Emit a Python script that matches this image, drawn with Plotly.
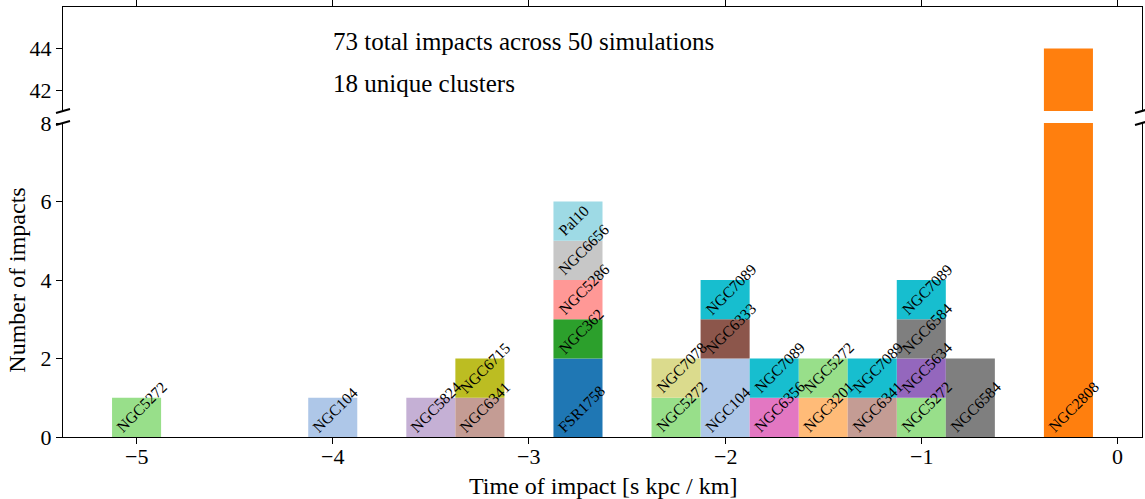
import plotly.graph_objects as go

# Impact histogram: one entry per stacked segment, listed bottom-to-top within each bin
bin_width = 0.25
impact_time = [-5.0, -4.0, -3.5, -3.25, -3.25,
               -2.75, -2.75, -2.75, -2.75, -2.75,
               -2.25, -2.25, -2.0, -2.0, -2.0,
               -1.75, -1.75, -1.5, -1.5, -1.25, -1.25,
               -1.0, -1.0, -1.0, -1.0, -0.75, -0.25]
cluster = ["NGC5272", "NGC104", "NGC5824", "NGC6341", "NGC6715",
           "FSR1758", "NGC362", "NGC5286", "NGC6656", "Pal10",
           "NGC5272", "NGC7078", "NGC104", "NGC6333", "NGC7089",
           "NGC6356", "NGC7089", "NGC3201", "NGC5272", "NGC6341", "NGC7089",
           "NGC5272", "NGC5634", "NGC6584", "NGC7089", "NGC6584", "NGC2808"]
n_impacts = [1, 1, 1, 1, 1,
             2, 1, 1, 1, 1,
             1, 1, 2, 1, 1,
             1, 1, 1, 1, 1, 1,
             1, 1, 1, 1, 2, 44]

cluster_colors = {
    "FSR1758": "#1f77b4", "NGC104": "#aec7e8", "NGC2808": "#ff7f0e",
    "NGC3201": "#ffbb78", "NGC362": "#2ca02c", "NGC5272": "#98df8a",
    "NGC5286": "#ff9896", "NGC5634": "#9467bd", "NGC5824": "#c5b0d5",
    "NGC6333": "#8c564b", "NGC6341": "#c49c94", "NGC6356": "#e377c2",
    "NGC6584": "#7f7f7f", "NGC6656": "#c7c7c7", "NGC6715": "#bcbd22",
    "NGC7078": "#dbdb8d", "NGC7089": "#17becf", "Pal10": "#9edae5",
}

n_simulations = 50
x_ticks = [-5, -4, -3, -2, -1, 0]
y_ticks_low = [0, 2, 4, 6, 8]
y_ticks_high = [42, 44]

# stacking bases
bases = []
running = {}
for t, n in zip(impact_time, n_impacts):
    b = running.get(t, 0)
    bases.append(b)
    running[t] = b + n

FONT = "Liberation Serif"
fig = go.Figure()

for name in sorted(set(cluster)):
    idx = [i for i, c in enumerate(cluster) if c == name]
    xs = [impact_time[i] for i in idx]
    ys = [n_impacts[i] for i in idx]
    bs = [bases[i] for i in idx]
    for xa, ya in (("x", "y"), ("x2", "y2")):
        fig.add_trace(go.Bar(
            x=xs, y=ys, base=bs, width=bin_width,
            marker=dict(color=cluster_colors[name], line=dict(width=0)),
            xaxis=xa, yaxis=ya, showlegend=False, hoverinfo="skip",
        ))

# cluster name on each segment
for t, c, b in zip(impact_time, cluster, bases):
    fig.add_annotation(
        x=t - bin_width / 2, y=b, xref="x", yref="y",
        text=c, textangle=-45, showarrow=False,
        xanchor="left", yanchor="bottom",
        font=dict(family=FONT, size=15.5, color="black"),
        borderpad=0,
    )

total = sum(n_impacts)
n_unique = len(set(cluster))
fig.add_annotation(x=0.248, y=0.92, xref="paper", yref="paper",
                   text=f"{total} total impacts across {n_simulations} simulations",
                   showarrow=False, xanchor="left", yanchor="middle",
                   font=dict(family=FONT, size=25, color="black"))
fig.add_annotation(x=0.248, y=0.822, xref="paper", yref="paper",
                   text=f"{n_unique} unique clusters",
                   showarrow=False, xanchor="left", yanchor="middle",
                   font=dict(family=FONT, size=25, color="black"))

# x tick labels, set close to the axis line
for v in x_ticks:
    fig.add_annotation(x=v, y=-0.0442, xref="x", yref="paper",
                       text=f"{v}".replace("-", "\u2212"),
                       showarrow=False, xanchor="center", yanchor="middle",
                       font=dict(family=FONT, size=22, color="black"),
                       borderpad=0)

# x-axis title
fig.add_annotation(x=0.5, y=-0.1144, xref="paper", yref="paper",
                   text="Time of impact [s kpc / km]",
                   showarrow=False, xanchor="center", yanchor="middle",
                   font=dict(family=FONT, size=24, color="black"),
                   borderpad=0)

low_top = 0.7302
high_bottom = 0.7581

# diagonal break marks where the y-axis is cut
for xp in (0, 1):
    for yp in (low_top, high_bottom):
        fig.add_shape(type="line", xref="paper", yref="paper",
                      xsizemode="pixel", ysizemode="pixel",
                      xanchor=xp, yanchor=yp,
                      x0=-7, x1=7, y0=-2, y1=2,
                      line=dict(color="black", width=2))

axis_common = dict(showline=True, linecolor="black", linewidth=1.3,
                   ticks="outside", ticklen=6, tickwidth=1.2, tickcolor="black",
                   showgrid=False, zeroline=False, automargin=False,
                   tickfont=dict(family=FONT, size=22, color="black"))

fig.update_layout(
    width=1145, height=499,
    margin=dict(l=63, r=3, t=7, b=62),
    plot_bgcolor="white", paper_bgcolor="white",
    barmode="overlay",
    xaxis=dict(axis_common, range=[-5.375, 0.125], tickvals=x_ticks,
               anchor="y", side="bottom", mirror=False, showticklabels=False),
    yaxis=dict(axis_common, range=[0, 8], tickvals=y_ticks_low,
               domain=[0, low_top], anchor="x", mirror=True,
               title=dict(text="Number of impacts",
                          font=dict(family=FONT, size=24, color="black"),
                          standoff=8)),
    xaxis2=dict(axis_common, range=[-5.375, 0.125], tickvals=x_ticks,
                anchor="y2", side="top", matches="x", mirror=False,
                showticklabels=False),
    yaxis2=dict(axis_common, range=[41, 46], tickvals=y_ticks_high,
                domain=[high_bottom, 1], anchor="x2", mirror=True),
)

fig.write_html("out.html")
